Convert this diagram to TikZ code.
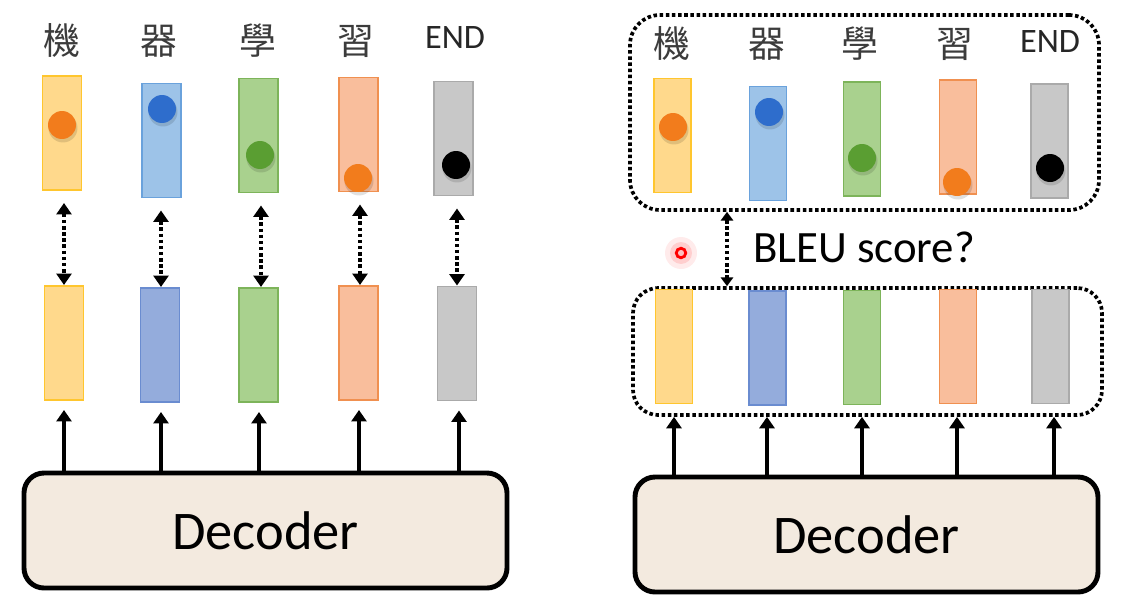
\documentclass[tikz,border=0pt]{standalone}
\usepackage{fontspec}
\setmainfont{Carlito}
\newfontfamily\cjk{Noto Sans CJK TC}
\usetikzlibrary{arrows.meta,calc}
\definecolor{yelF}{HTML}{FFD98C}
\definecolor{yelD}{HTML}{FFC62E}
\definecolor{bluF}{HTML}{9DC3E8}
\definecolor{bluD}{HTML}{6AA2DC}
\definecolor{blu2F}{HTML}{94ACDC}
\definecolor{blu2D}{HTML}{6A8CD0}
\definecolor{grnF}{HTML}{A9D18E}
\definecolor{grnD}{HTML}{7DB45A}
\definecolor{ornF}{HTML}{F9BE9C}
\definecolor{ornD}{HTML}{F09050}
\definecolor{gryF}{HTML}{C8C8C8}
\definecolor{gryD}{HTML}{AAAAAA}
\definecolor{dotO}{HTML}{F27C1C}
\definecolor{dotB}{HTML}{2E6DCC}
\definecolor{dotG}{HTML}{5A9E32}
\definecolor{decF}{HTML}{F3EADF}
\definecolor{txt}{HTML}{3C3C3C}
\begin{document}
\begin{tikzpicture}[x=0.02cm,y=-0.02cm,
  vecbox/.style={draw, line width=0.8pt, minimum width=39*0.02cm, minimum height=114*0.02cm, inner sep=0pt, outer sep=0pt},
  vecR/.style={vecbox, minimum width=37*0.02cm},
  yel/.style={fill=yelF, draw=yelD},
  blu/.style={fill=bluF, draw=bluD},
  blu2/.style={fill=blu2F, draw=blu2D},
  grn/.style={fill=grnF, draw=grnD},
  orn/.style={fill=ornF, draw=ornD},
  gry/.style={fill=gryF, draw=gryD},
  tok/.style={font=\cjk\fontsize{21}{21}\selectfont, text=txt, inner sep=0pt},
  endtok/.style={font=\fontsize{19.5}{20}\selectfont, text=black!85, inner sep=0pt},
  dotline/.style={line width=2.1pt, dash pattern=on 2pt off 1.5pt},
  dotarrow/.style={dotline, {Triangle[width=8.5pt,length=6.5pt]}-{Triangle[width=8.5pt,length=6.5pt]}},
  uparrow/.style={line width=2.2pt, -{Triangle[width=8.5pt,length=6.5pt]}},
  decbox/.style={draw, line width=2.8pt, fill=decF, rounded corners=0.4cm, inner sep=0pt, font=\fontsize{31}{32}\selectfont},
  dotbox/.style={draw, dotline, rounded corners=0.6cm, inner sep=0pt},
]
\useasboundingbox (0,0) rectangle (1145,612);

% ---------------- LEFT PANEL ----------------
\node[tok] (l1) at (62,41) {機};
\node[tok] (l2) at (159,41) {器};
\node[tok] (l3) at (258,41) {學};
\node[tok] (l4) at (356,41) {習};
\node[endtok] (l5) at (455,38) {END};

\node[vecbox,yel] (t1) at (62,133) {};
\node[vecbox,blu] (t2) at (161.5,140.5) {};
\node[vecbox,grn] (t3) at (258.5,135.5) {};
\node[vecbox,orn] (t4) at (358.5,134.5) {};
\node[vecbox,gry] (t5) at (453.5,138.5) {};

\foreach \x/\y/\c in {62/125/dotO,162/109/dotB,260/155/dotG,358/178/dotO,456/165/black}{
  \fill[black,opacity=0.12] (\x+1,\y+3) circle (0.29cm);
  \fill[\c] (\x,\y) circle (0.28cm);
}

\node[vecbox,yel] (b1) at (64,343) {};
\node[vecbox,blu2] (b2) at (160,345) {};
\node[vecbox,grn] (b3) at (258.5,345) {};
\node[vecbox,orn] (b4) at (358.5,343) {};
\node[vecbox,gry] (b5) at (457,343.5) {};

\node[decbox, minimum width=483*0.02cm, minimum height=115*0.02cm] (ldec) at (265.5,530.5) {Decoder};

\coordinate (la1) at (64,0);
\coordinate (la2) at (161,0);
\coordinate (la3) at (261,0);
\coordinate (la4) at (360,0);
\coordinate (la5) at (457,0);
\foreach \i in {1,...,5}{
  \draw[dotarrow] ($(la\i |- t\i.south)+(0,13)$) -- ($(la\i |- b\i.north)+(0,-1)$);
}
\coordinate (lu1) at (64,0);
\coordinate (lu2) at (161,0);
\coordinate (lu3) at (259,0);
\coordinate (lu4) at (359,0);
\coordinate (lu5) at (459,0);
\foreach \i in {1,...,5}{
  \draw[uparrow] (lu\i |- ldec.north) -- ($(lu\i |- b\i.south)+(0,10)$);
}

% ---------------- RIGHT PANEL ----------------
\node[dotbox, minimum width=469*0.02cm, minimum height=195*0.02cm] (rtop) at (864.5,112.5) {};
\node[dotbox, rounded corners=0.5cm, minimum width=469*0.02cm, minimum height=127*0.02cm] (rbot) at (867.5,351.5) {};

\node[tok] (r1) at (672,44) {機};
\node[tok] (r2) at (767,44) {器};
\node[tok] (r3) at (860,44) {學};
\node[tok] (r4) at (955,44) {習};
\node[endtok] (r5) at (1050,42) {END};

\node[vecR,yel] (rt1) at (672.5,135.5) {};
\node[vecR,blu] (rt2) at (768,143.5) {};
\node[vecR,grn] (rt3) at (862,139) {};
\node[vecR,orn] (rt4) at (958,137) {};
\node[vecR,gry] (rt5) at (1049.5,141) {};

\foreach \x/\y/\c in {673/127/dotO,769/112/dotB,862/158/dotG,957/182/dotO,1050/168/black}{
  \fill[black,opacity=0.12] (\x+1,\y+3) circle (0.29cm);
  \fill[\c] (\x,\y) circle (0.28cm);
}

\node[vecR,yel] (rb1) at (674,346.5) {};
\node[vecR,blu2] (rb2) at (767.5,348) {};
\node[vecR,grn] (rb3) at (862,347.5) {};
\node[vecR,orn] (rb4) at (958,346.5) {};
\node[vecR,gry] (rb5) at (1050.5,346.5) {};

\node[decbox, minimum width=463*0.02cm, minimum height=115*0.02cm] (rdec) at (866.5,534.5) {Decoder};

\coordinate (ba) at (727,0);
\draw[dotline, {Triangle[width=7pt,length=5pt]}-{Triangle[width=7pt,length=5pt]}] (ba |- rtop.south) -- (ba |- rbot.north);

\node[font=\fontsize{25.5}{26}\selectfont, inner sep=0pt] (bleu) at (864,247) {BLEU score?};

% laser pointer spot
\fill[red, opacity=0.08] (681,253) circle (0.32cm);
\fill[red, opacity=0.12] (681,253) circle (0.22cm);
\draw[red, line width=1.6pt, fill=red!25] (681,253) circle (0.095cm);

\coordinate (ru1) at (674,0);
\coordinate (ru2) at (767,0);
\coordinate (ru3) at (862,0);
\coordinate (ru4) at (957,0);
\coordinate (ru5) at (1054,0);
\foreach \i in {1,...,5}{
  \draw[uparrow] (ru\i |- rdec.north) -- (ru\i |- rbot.south);
}
\end{tikzpicture}
\end{document}
